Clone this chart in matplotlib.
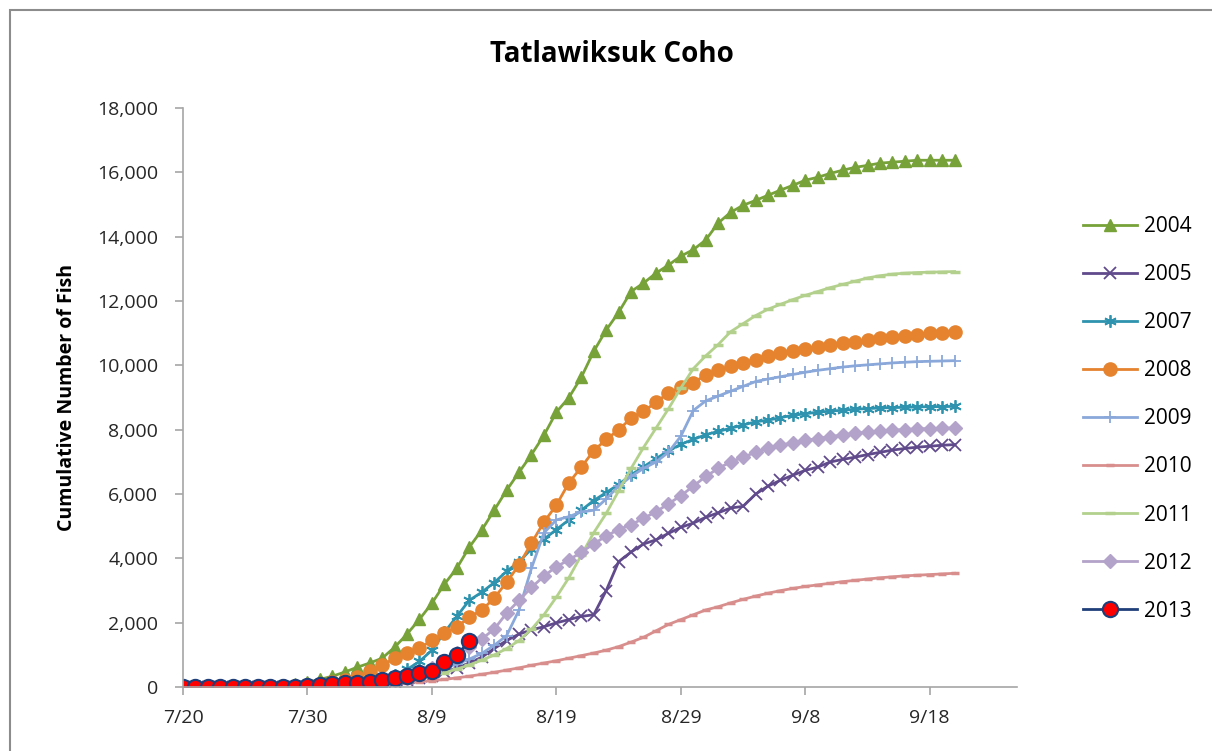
import pandas as pd
import matplotlib
matplotlib.use("Agg")
import matplotlib.pyplot as plt
import matplotlib.dates as mdates
from matplotlib.ticker import FuncFormatter
from matplotlib.patches import Rectangle

# daily cumulative counts, 7/20 .. 9/20
dates = pd.date_range("2013-07-20", "2013-09-20")

y2004 = [0, 0, 0, 5, 10, 20, 30, 50, 70, 100, 160, 240, 340,
         470, 620, 750, 900, 1240, 1650, 2110, 2610, 3200, 3700, 4350, 4880,
         5500, 6120, 6680, 7230, 7830, 8550, 9000, 9630, 10440, 11100, 11650,
         12300, 12560, 12870, 13120, 13400, 13600, 13900, 14430, 14760, 14980,
         15130, 15290, 15450, 15600, 15760, 15850, 15970, 16070, 16160, 16220,
         16290, 16320, 16350, 16380, 16380, 16380, 16380]
y2005 = [0, 0, 0, 0, 0, 0, 0, 5, 10, 15, 20, 30, 40, 55, 70,
         90, 120, 160, 210, 280, 360, 460, 600, 750, 930, 1200, 1450, 1650,
         1780, 1880, 2000, 2100, 2200, 2250, 3000, 3900, 4200, 4450, 4580,
         4780, 4970, 5100, 5280, 5420, 5570, 5620, 6000, 6250, 6430, 6590,
         6740, 6840, 7000, 7080, 7150, 7230, 7300, 7370, 7420, 7460, 7490,
         7520, 7540]
y2007 = [0, 0, 0, 0, 0, 0, 5, 10, 15, 20, 30, 40, 60, 90, 130,
         180, 260, 380, 550, 800, 1150, 1700, 2200, 2700, 2950, 3250, 3600,
         3900, 4300, 4600, 4900, 5200, 5500, 5800, 6050, 6300, 6600, 6850,
         7100, 7350, 7550, 7700, 7850, 7950, 8050, 8150, 8250, 8300, 8380,
         8450, 8500, 8550, 8580, 8610, 8640, 8660, 8680, 8690, 8700, 8710,
         8720, 8720, 8730]
y2008 = [0, 0, 0, 0, 5, 10, 15, 25, 35, 50, 70, 100, 150, 220, 330,
         500, 680, 900, 1060, 1210, 1460, 1680, 1860, 2180, 2390, 2770, 3260,
         3800, 4480, 5130, 5660, 6350, 6840, 7350, 7700, 8000, 8360, 8580,
         8850, 9150, 9320, 9470, 9700, 9850, 9980, 10080, 10180, 10280, 10380,
         10450, 10520, 10580, 10630, 10690, 10740, 10790, 10840, 10880, 10920,
         10960, 11000, 11020, 11050]
y2009 = [0, 0, 0, 0, 0, 5, 10, 15, 20, 30, 40, 55, 75, 100, 130,
         160, 200, 250, 310, 390, 480, 590, 720, 870, 1050, 1300, 1600, 2400,
         3700, 4800, 5200, 5300, 5450, 5500, 5850, 6250, 6550, 6800, 7000,
         7300, 7800, 8600, 8900, 9050, 9200, 9350, 9500, 9580, 9650, 9720,
         9790, 9850, 9900, 9950, 9990, 10020, 10050, 10080, 10100, 10120,
         10130, 10140, 10150]
y2010 = [0, 0, 0, 0, 0, 0, 0, 0, 5, 10, 15, 20, 30, 40, 55,
         70, 90, 110, 140, 170, 200, 240, 290, 340, 400, 460, 530, 600, 680,
         750, 820, 900, 980, 1060, 1150, 1260, 1400, 1550, 1750, 1950, 2100,
         2250, 2400, 2500, 2620, 2730, 2830, 2920, 3000, 3070, 3130, 3180,
         3230, 3280, 3320, 3360, 3400, 3430, 3460, 3480, 3500, 3520, 3540]
y2011 = [0, 0, 0, 0, 0, 0, 5, 10, 15, 20, 30, 40, 55, 70, 90,
         110, 140, 180, 230, 290, 360, 450, 560, 690, 840, 1000, 1200, 1450,
         1800, 2250, 2800, 3400, 4100, 4800, 5400, 6100, 6800, 7450, 8050,
         8650, 9300, 9900, 10300, 10650, 11050, 11300, 11550, 11750, 11900,
         12050, 12180, 12300, 12420, 12520, 12620, 12720, 12790, 12840,
         12870, 12890, 12900, 12910, 12920]
y2012 = [0, 0, 0, 0, 0, 0, 5, 10, 15, 20, 30, 40, 55, 70, 90,
         120, 160, 220, 300, 420, 600, 800, 1050, 1250, 1500, 1800, 2300,
         2700, 3100, 3450, 3750, 3950, 4200, 4450, 4700, 4900, 5050, 5250,
         5450, 5700, 5950, 6250, 6550, 6800, 7000, 7150, 7300, 7420, 7520,
         7600, 7670, 7730, 7790, 7840, 7890, 7930, 7960, 7990, 8010, 8030,
         8040, 8050, 8060]
y2013 = [0, 0, 0, 0, 0, 0, 0, 5, 10, 15, 30, 60, 90, 120, 140,
         170, 220, 280, 340, 430, 500, 780, 1000, 1420]

series = [
    ("2004", y2004, dict(color="#77A23A", marker="^", ms=8.5, mfc="#77A23A", mec="#77A23A")),
    ("2005", y2005, dict(color="#604A8C", marker="x", ms=8, mew=1.3)),
    ("2007", y2007, dict(color="#2E93AE", marker=(6, 2, 0), ms=9, mew=1.3)),
    ("2008", y2008, dict(color="#E5832F", marker="o", ms=9.5, mfc="#E5832F", mec="#E5832F")),
    ("2009", y2009, dict(color="#8AA8DA", marker="+", ms=9, mew=1.3)),
    ("2010", y2010, dict(color="#D88E8C", marker="_", ms=6, mew=2.5)),
    ("2011", y2011, dict(color="#B3D18D", marker="_", ms=7, mew=2.5)),
    ("2012", y2012, dict(color="#B3A2C9", marker="D", ms=7, mfc="#B3A2C9", mec="#B3A2C9")),
    ("2013", y2013, dict(color="#1F3F7A", marker="o", ms=11, mfc="#FF0000", mec="#1F3F7A", mew=1.5)),
]

plt.rcParams["font.family"] = ["Open Sans", "DejaVu Sans"]
fig = plt.figure(figsize=(12.12, 7.51), dpi=100)
ax = fig.add_axes([0.151, 0.085, 0.688, 0.771])

for name, vals, style in series:
    ax.plot(dates[:len(vals)], vals, lw=2, label=name, **style)

ax.set_xlim(pd.Timestamp("2013-07-20"), pd.Timestamp("2013-09-25"))
ax.set_ylim(0, 18000)
ax.set_yticks(range(0, 18001, 2000))
ax.yaxis.set_major_formatter(FuncFormatter(lambda v, p: f"{int(v):,}"))
ax.set_xticks(pd.date_range("2013-07-20", "2013-09-20", freq="10D"))
ax.xaxis.set_major_formatter(FuncFormatter(lambda v, p: f"{mdates.num2date(v).month}/{mdates.num2date(v).day}"))

for s in ["top", "right"]:
    ax.spines[s].set_visible(False)
for s in ["left", "bottom"]:
    ax.spines[s].set_color("#A6A6A6")
    ax.spines[s].set_linewidth(1.2)
ax.tick_params(colors="#A6A6A6", labelcolor="#262626", labelsize=14, length=6, width=1.2)
ax.tick_params(axis="x", pad=10)
ax.tick_params(axis="y", pad=12)

ax.set_ylabel("Cumulative Number of Fish", fontsize=14, fontweight="bold", labelpad=14)
fig.text(0.505, 0.928, "Tatlawiksuk Coho", ha="center", va="center", fontsize=20, fontweight="bold")

ax.legend(loc="upper left", bbox_to_anchor=(1.057, 0.846), frameon=False, fontsize=15,
          labelspacing=1.3, handlelength=2.6, handletextpad=0.3)

# outer chart frame
fig.patches.append(Rectangle((0.008, -0.01), 1.0, 0.997, transform=fig.transFigure,
                             fill=False, edgecolor="#8C8C8C", lw=1.5))

fig.savefig("out.png", dpi=100)
